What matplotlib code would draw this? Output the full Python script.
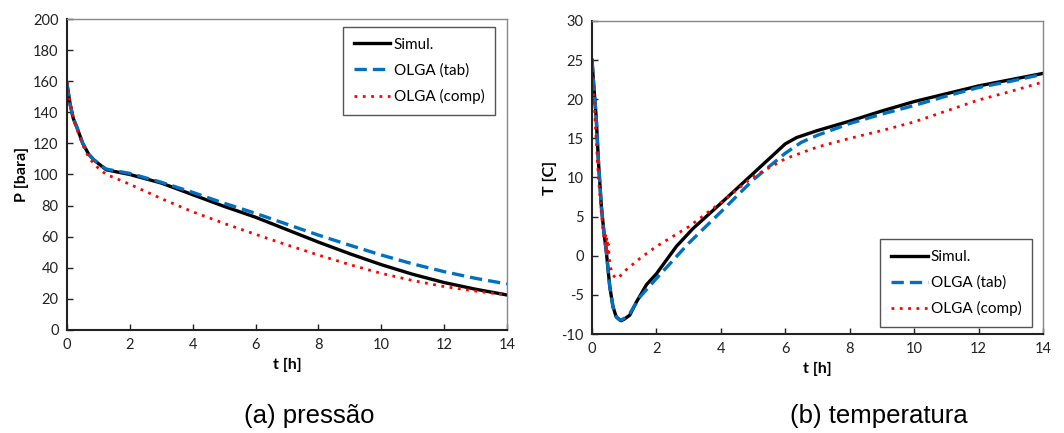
import numpy as np
import matplotlib
matplotlib.use("Agg")
import matplotlib.pyplot as plt

plt.rcParams["axes.unicode_minus"] = False

# Pressão [bara] vs tempo [h]
t_p_sim = [0, 0.1, 0.2, 0.32, 0.5, 0.69, 0.85, 1.0, 1.25, 1.5, 2, 3, 4, 5, 6, 7, 8, 9, 10, 11, 12, 13, 14]
p_sim = [158, 145, 136, 130, 120, 113, 109.5, 107, 103, 102, 100, 94.5, 87, 79.5, 72.5, 64.5, 56.5, 49, 42, 35.8, 30.5, 26.2, 22.5]

t_p_tab = [0, 0.1, 0.2, 0.32, 0.5, 0.69, 0.85, 1.0, 1.25, 1.5, 2, 3, 4, 5, 6, 7, 8, 9, 10, 11, 12, 13, 14]
p_tab = [158, 145, 136, 130, 120, 113, 109.5, 107, 103.5, 102.5, 100.7, 95, 88.5, 81.5, 75, 68, 61, 54.5, 48.2, 42.5, 37.5, 33.2, 29.6]

t_p_comp = [0, 0.1, 0.2, 0.32, 0.5, 0.69, 0.85, 1.0, 1.25, 1.5, 2, 3, 4, 5, 6, 7, 8, 9, 10, 11, 12, 13, 14]
p_comp = [160, 146, 136, 129, 119, 111, 107, 104, 100, 98, 93.7, 84.5, 76, 68.5, 61.5, 54.7, 48.2, 42, 36.4, 31.8, 27.9, 25, 22.5]

# Temperatura [C] vs tempo [h]
t_T_sim = [0, 0.05, 0.13, 0.2, 0.29, 0.37, 0.45, 0.55, 0.65, 0.75, 0.86, 0.91, 1.0, 1.17, 1.38, 1.69, 2.0, 2.62, 3.14, 4, 5, 6, 6.35, 7, 8, 9, 10, 11, 12, 13, 14]
T_sim = [25, 22, 17.7, 12, 6.3, 3.0, 0.3, -3.9, -6.5, -7.8, -8.2, -8.3, -8.1, -7.6, -5.9, -3.7, -2.3, 1.2, 3.5, 6.7, 10.5, 14.3, 15.1, 16.0, 17.2, 18.5, 19.7, 20.7, 21.7, 22.5, 23.3]

t_T_tab = [0, 0.05, 0.13, 0.2, 0.29, 0.37, 0.45, 0.55, 0.65, 0.75, 0.86, 0.91, 1.0, 1.17, 1.5, 2.0, 3, 4, 5, 6, 6.5, 7, 8, 9, 10, 11, 12, 13, 14]
T_tab = [25, 22, 17.7, 12, 6.3, 3.0, 0.3, -3.9, -6.5, -7.8, -8.2, -8.2, -8.0, -7.4, -5.2, -2.9, 1.6, 5.6, 9.7, 13.1, 14.5, 15.4, 16.9, 18.1, 19.2, 20.4, 21.5, 22.3, 23.2]

t_T_comp = [0, 0.05, 0.1, 0.2, 0.3, 0.38, 0.42, 0.44, 0.46, 0.48, 0.5, 0.55, 0.62, 0.75, 0.85, 1.0, 1.5, 2, 3, 4, 5, 6, 7, 8, 9, 10, 11, 12, 13, 14]
T_comp = [25, 21, 17, 10, 5, 2.0, 2.6, 0.8, 2.4, 0.5, 1.5, -1.0, -2.3, -2.9, -2.7, -2.0, -0.3, 1.2, 3.7, 6.8, 10.1, 12.4, 13.9, 15.0, 16.0, 17.1, 18.5, 19.9, 21.0, 22.2]

labels = ["Simul.", "OLGA (tab)", "OLGA (comp)"]
tick_font = "Lato"

fig = plt.figure(figsize=(10.64, 4.33), dpi=100)
ax1 = fig.add_axes([0.063, 0.238, 0.4135, 0.718])
ax2 = fig.add_axes([0.5564, 0.2286, 0.4239, 0.723])


def estilo(ax, ylabel, ylim, yticks):
    ax.set_xlim(0, 14)
    ax.set_xticks(range(0, 15, 2))
    ax.set_ylim(*ylim)
    ax.set_yticks(yticks)
    ax.tick_params(direction="in", length=4, width=1, labelsize=10.5, pad=6, colors="#222222")
    for lab in ax.get_xticklabels() + ax.get_yticklabels():
        lab.set_family(tick_font)
    for s in ["left", "bottom"]:
        ax.spines[s].set_linewidth(1.5)
        ax.spines[s].set_color("#222222")
    for s in ["top", "right"]:
        ax.spines[s].set_linewidth(1.0)
        ax.spines[s].set_color("#888888")
    ax.set_xlabel("t [h]", fontsize=11.5, fontweight="bold", family=tick_font, labelpad=4)
    ax.set_ylabel(ylabel, fontsize=11.5, fontweight="bold", family=tick_font, labelpad=3)


def curvas(ax, dados):
    (t1, y1), (t2, y2), (t3, y3) = dados
    ax.plot(t1, y1, color="black", lw=2.4, label=labels[0])
    ax.plot(t2, y2, color="#0070C0", lw=2.4, ls=(0, (3.7, 1.8)), label=labels[1])
    ax.plot(t3, y3, color="#FF0000", lw=2.0, ls=(0, (1, 2)), label=labels[2])


curvas(ax1, [(t_p_sim, p_sim), (t_p_tab, p_tab), (t_p_comp, p_comp)])
curvas(ax2, [(t_T_sim, T_sim), (t_T_tab, T_tab), (t_T_comp, T_comp)])

estilo(ax1, "P [bara]", (0, 200), range(0, 201, 20))
estilo(ax2, "T [C]", (-10, 30), range(-10, 31, 5))

leg_kw = dict(prop={"family": tick_font, "size": 11}, fancybox=False, framealpha=1,
              edgecolor="#555555", handlelength=2.4, handletextpad=0.2, labelspacing=0.75,
              borderpad=0.7, borderaxespad=0)
l1 = ax1.legend(loc="upper right", bbox_to_anchor=(0.9727, 0.974), **leg_kw)
l2 = ax2.legend(loc="lower right", bbox_to_anchor=(0.9756, 0.022), **leg_kw)
for l in (l1, l2):
    l.get_frame().set_linewidth(1.0)

fig.text(0.291, 0.022, "(a) pressão", fontsize=18.5, family="Liberation Sans", ha="center")
fig.text(0.826, 0.022, "(b) temperatura", fontsize=18.5, family="Liberation Sans", ha="center")

fig.savefig("out.png", dpi=100)
